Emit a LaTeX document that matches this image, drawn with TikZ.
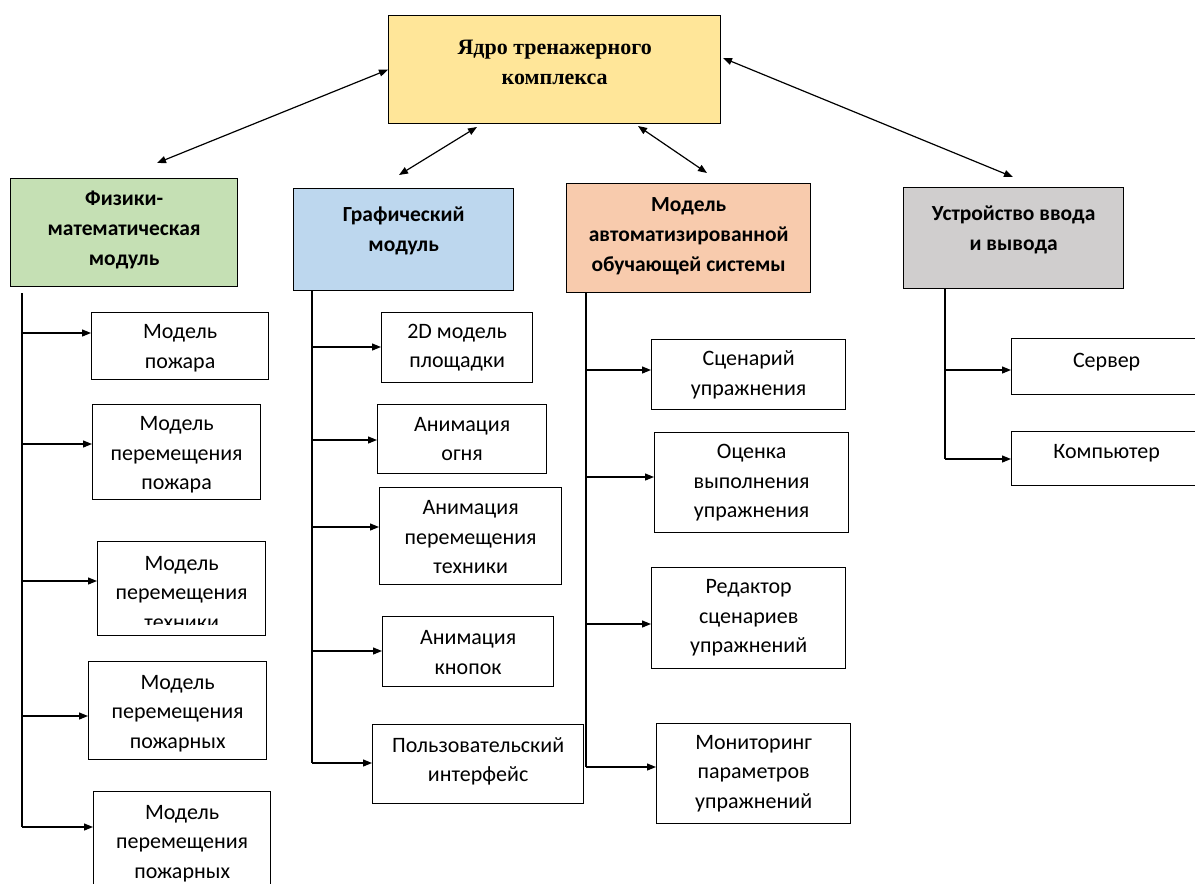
\documentclass[tikz,border=0pt]{standalone}
\usepackage{fontspec}
\setmainfont{Carlito}
\newfontfamily\coreserif{Liberation Serif}
\usetikzlibrary{arrows.meta}

\definecolor{coreyellow}{HTML}{FFE699}
\definecolor{physgreen}{HTML}{C5E0B4}
\definecolor{graphblue}{HTML}{BDD7EE}
\definecolor{aosorange}{HTML}{F8CBAD}
\definecolor{devgrey}{HTML}{D0CECE}

\tikzset{
  box/.style={draw, line width=1.3pt, inner sep=0pt, anchor=north west},
  ctext/.style={align=center, inner sep=0pt, font=\fontsize{22}{29.5}\selectfont},
  htext/.style={align=center, inner sep=0pt, font=\fontsize{21.5}{30}\selectfont\bfseries},
  stext/.style={align=center, inner sep=0pt, font=\fontsize{22}{30}\selectfont\coreserif\bfseries},
  branch/.style={line width=1.2pt, -{Triangle[length=9pt,width=7pt]}},
  trunk/.style={line width=1.2pt},
  link/.style={line width=1.2pt,
    {Triangle[length=9pt,width=7pt]}-{Triangle[length=9pt,width=7pt]}}
}

% framed box with its centred caption:
% #1 box options, #2 text style, #3 name, #4 x, #5 y, #6 width, #7 height,
% #8 vertical offset of the caption, #9 caption
\newcommand\tbox[9]{%
  \node[box,#1,minimum width=#6pt,minimum height=#7pt] (#3) at (#4,#5) {};
  \node[#2] (#3-t) at ([yshift=#8pt]#3.center) {#9};
}

\begin{document}
\begin{tikzpicture}[x=1pt, y=-1pt]
\useasboundingbox (0,0) rectangle (1195,884);
\clip (0,0) rectangle (1195,884);

% core of the simulator
\tbox{fill=coreyellow}{stext}{core}{388}{15}{332}{108}{7}{Ядро тренажерного\\комплекса}

% four main modules
\tbox{fill=physgreen}{htext}{phys}{10}{178}{227}{108}{3}{Физики-\\математическая\\модуль}
\tbox{fill=graphblue}{htext}{graph}{293}{188}{220}{102}{9}{Графический\\модуль}
\tbox{fill=aosorange}{htext}{aos}{566}{183}{244}{109}{2}{Модель\\автоматизированной\\обучающей системы}
\tbox{fill=devgrey}{htext}{dev}{903}{187}{220}{101}{8}{Устройство ввода\\и вывода}

% links between the core and the modules
\coordinate (k1) at (157,163);
\coordinate (k2a) at (477,127);
\coordinate (k2b) at (399,175);
\coordinate (k3a) at (638,126);
\coordinate (k3b) at (707,173);
\coordinate (k4a) at (723,58);
\coordinate (k4b) at (1013,177);
\draw[link] (core.west) -- (k1);
\draw[link] (k2a) -- (k2b);
\draw[link] (k3a) -- (k3b);
\draw[link] (k4a) -- (k4b);

% physical and mathematical module
\tbox{}{ctext}{p1}{91}{312}{177}{67}{-2}{Модель\\пожара}
\tbox{}{ctext}{p2}{92}{404}{168}{95}{-3}{Модель\\перемещения\\пожара}
\node[box, minimum width=168pt, minimum height=94pt] (p3) at (97,541) {};
\begin{scope}
  % the third line does not fit in its frame and is cut off
  \clip (p3.north west) rectangle ([yshift=12pt]p3.south east);
  \node[ctext] (p3-t) at ([yshift=-4pt]p3.center) {Модель\\перемещения\\техники};
\end{scope}
\tbox{}{ctext}{p4}{88}{661}{178}{98}{-3}{Модель\\перемещения\\пожарных}
\tbox{}{ctext}{p5}{93}{791}{177}{110}{3}{Модель\\перемещения\\пожарных}

\coordinate (pt0) at (22,293);
\coordinate (pt1) at (22,333);
\coordinate (pt2) at (22,444);
\coordinate (pt3) at (22,581);
\coordinate (pt4) at (22,716);
\coordinate (pt5) at (22,827);
\draw[trunk] (pt0) -- (pt5);
\draw[branch] (pt1) -- (pt1 -| p1.west);
\draw[branch] (pt2) -- (pt2 -| p2.west);
\draw[branch] (pt3) -- (pt3 -| p3.west);
\draw[branch] (pt4) -- (pt4 -| p4.west);
\draw[branch] (pt5) -- (pt5 -| p5.west);

% graphics module
\tbox{}{ctext}{g1}{381}{312}{151}{70}{0}{2D модель\\площадки}
\tbox{}{ctext}{g2}{377}{404}{169}{69}{0}{Анимация\\огня}
\tbox{}{ctext}{g3}{379}{487}{182}{97}{-1}{Анимация\\перемещения\\техники}
\tbox{}{ctext}{g4}{382}{616}{171}{70}{-1}{Анимация\\кнопок}
\tbox{}{ctext}{g5}{372}{724}{211}{79}{3}{Пользовательский\\интерфейс}

\coordinate (gt1) at (312,347);
\coordinate (gt2) at (312,440);
\coordinate (gt3) at (312,527);
\coordinate (gt4) at (312,651);
\coordinate (gt5) at (312,763);
\draw[trunk] (graph.south -| gt1) -- (gt5);
\draw[branch] (gt1) -- (gt1 -| g1.west);
\draw[branch] (gt2) -- (gt2 -| g2.west);
\draw[branch] (gt3) -- (gt3 -| g3.west);
\draw[branch] (gt4) -- (gt4 -| g4.west);
\draw[branch] (gt5) -- (gt5 -| g5.west);

% automated training system
\tbox{}{ctext}{a1}{651}{339}{194}{70}{0}{Сценарий\\упражнения}
\tbox{}{ctext}{a2}{654}{432}{194}{100}{0}{Оценка\\выполнения\\упражнения}
\tbox{}{ctext}{a3}{651}{567}{194}{101}{0}{Редактор\\сценариев\\упражнений}
\tbox{}{ctext}{a4}{656}{723}{194}{100}{0}{Мониторинг\\параметров\\упражнений}

\coordinate (at1) at (586,370);
\coordinate (at2) at (586,477);
\coordinate (at3) at (586,624);
\coordinate (at4) at (586,767);
\draw[trunk] (aos.south -| at1) -- (at4);
\draw[branch] (at1) -- (at1 -| a1.west);
\draw[branch] (at2) -- (at2 -| a2.west);
\draw[branch] (at3) -- (at3 -| a3.west);
\draw[branch] (at4) -- (at4 -| a4.west);

% input and output devices
\tbox{}{ctext}{d1}{1011}{338}{190}{56}{5}{Сервер}
\tbox{}{ctext}{d2}{1011}{431}{190}{54}{5}{Компьютер}

\coordinate (dt1) at (945,370);
\coordinate (dt2) at (945,459);
\draw[trunk] (dev.south -| dt1) -- (dt2);
\draw[branch] (dt1) -- (dt1 -| d1.west);
\draw[branch] (dt2) -- (dt2 -| d2.west);
\end{tikzpicture}
\end{document}
